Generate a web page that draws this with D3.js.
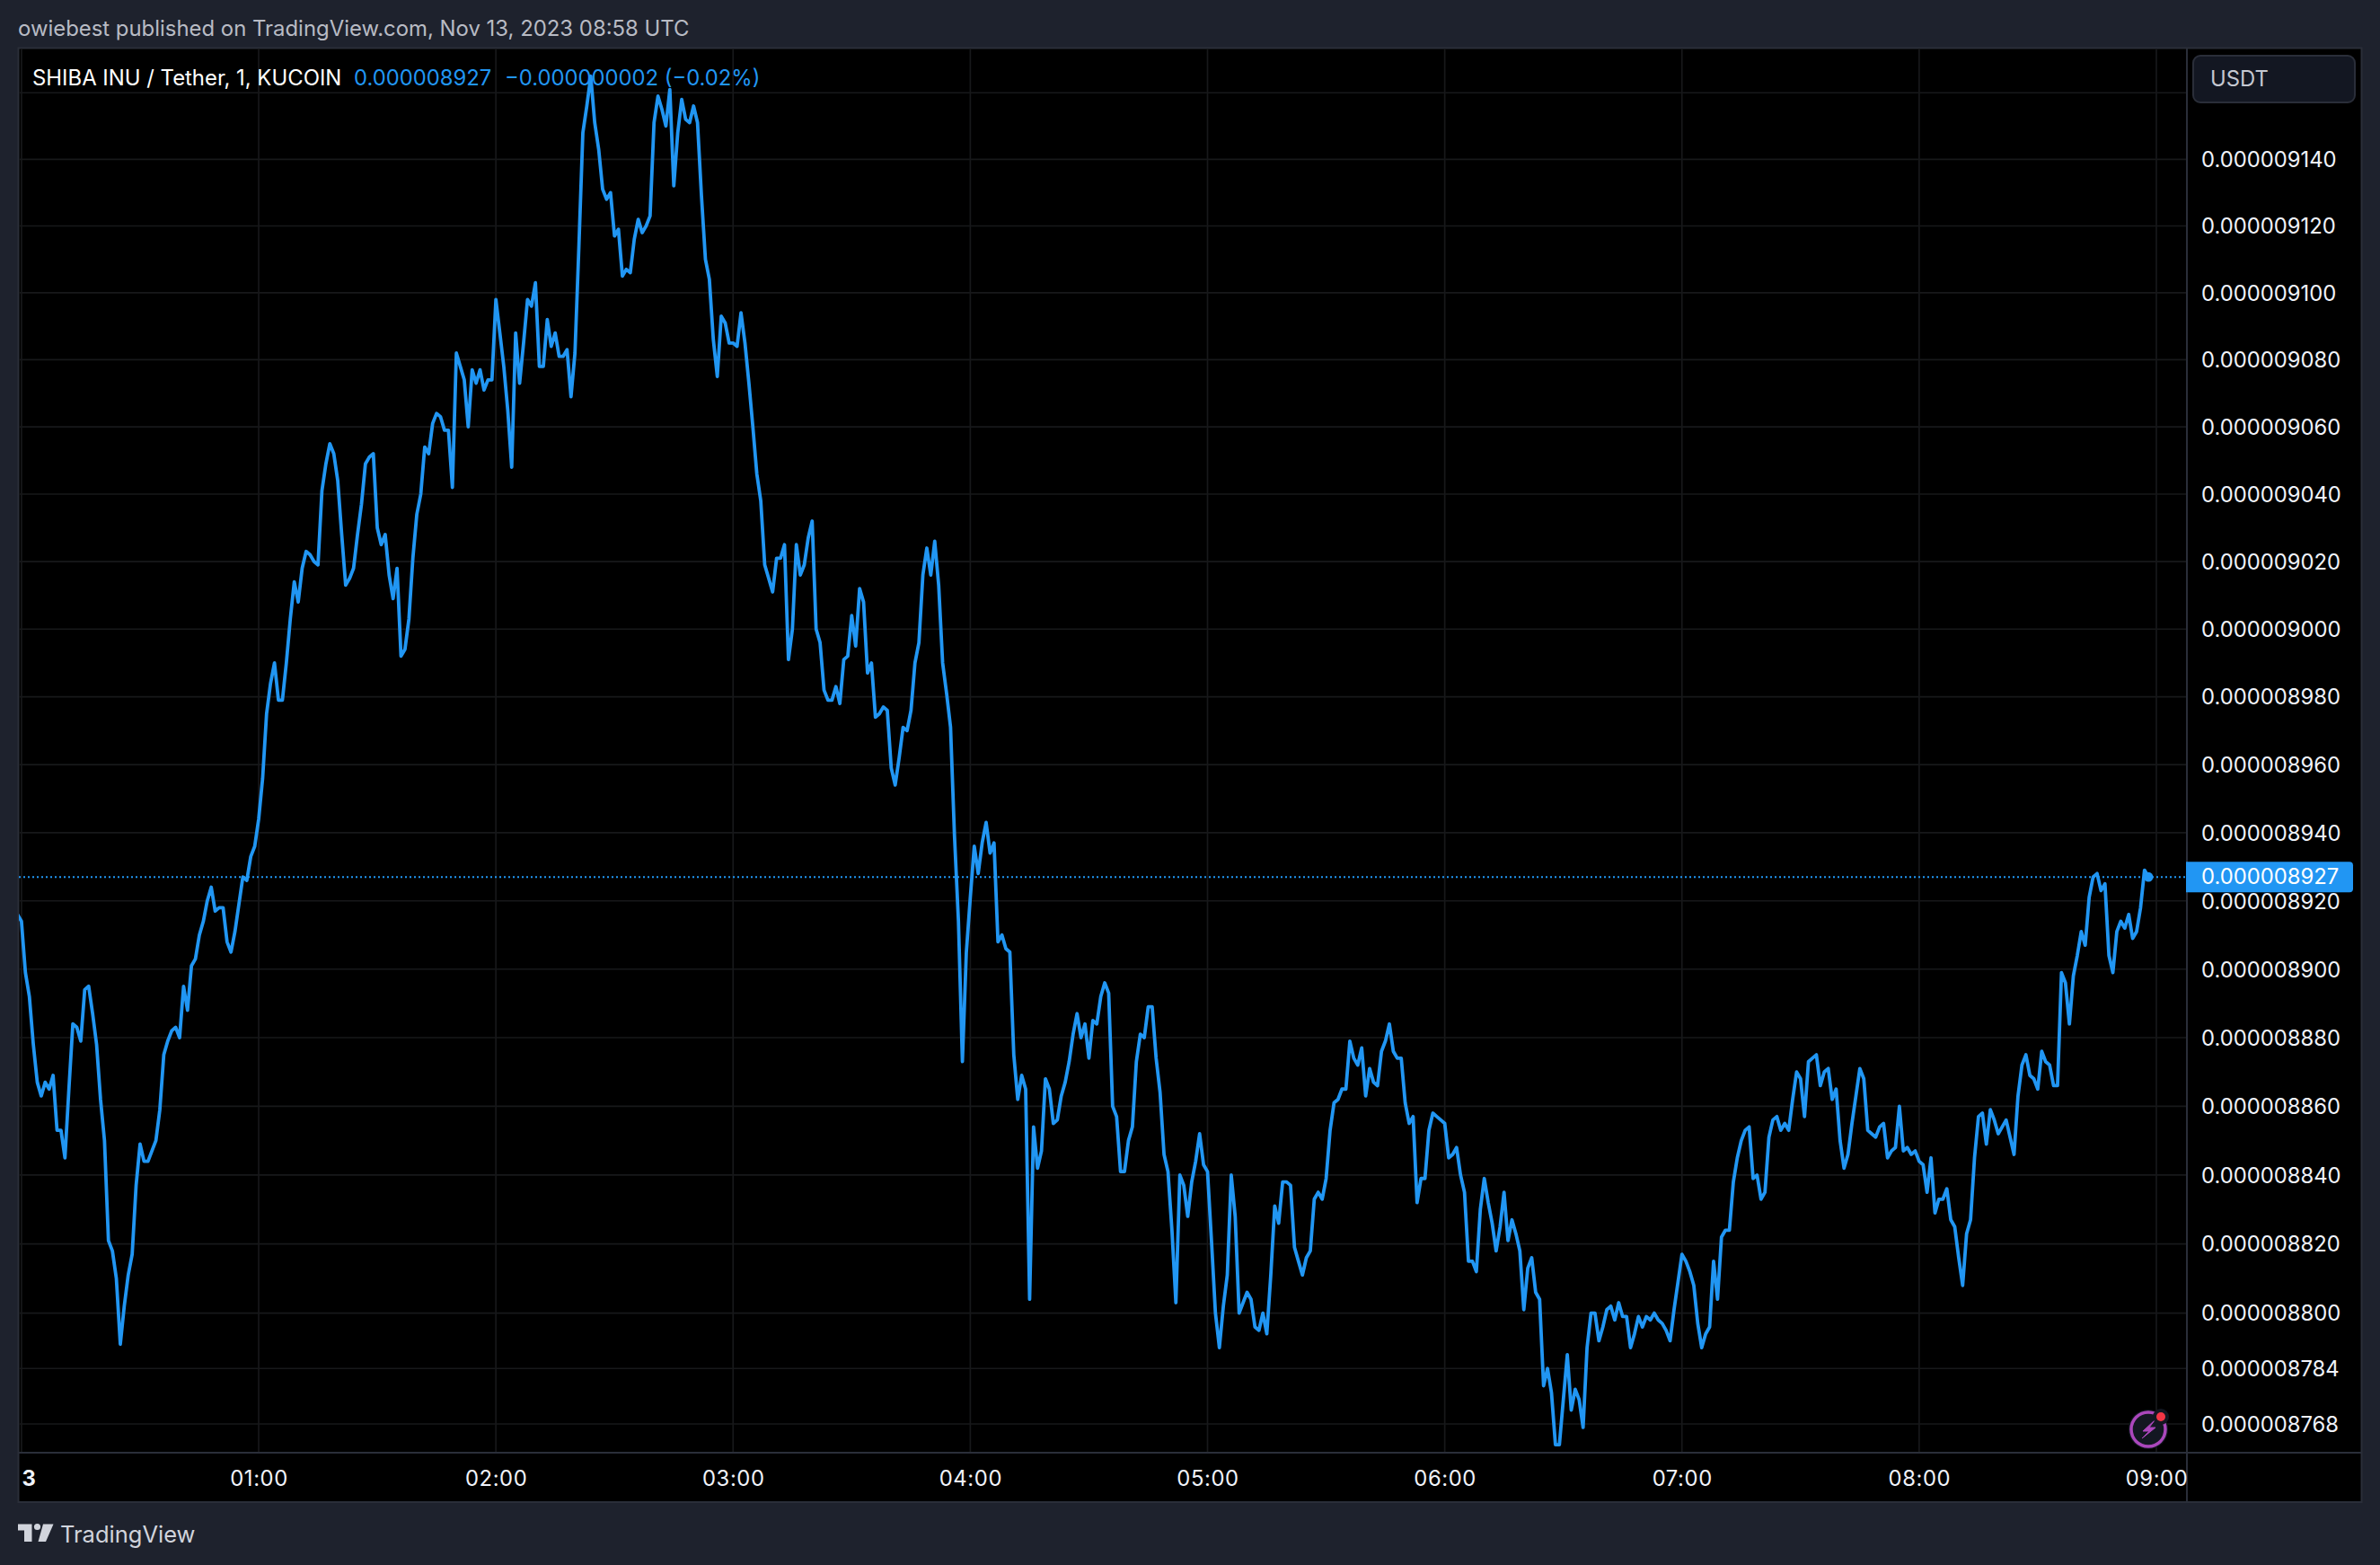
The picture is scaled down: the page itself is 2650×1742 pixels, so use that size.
<!DOCTYPE html>
<html>
<head>
<meta charset="utf-8">
<title>SHIBA INU / Tether</title>
<script src="https://cdn.jsdelivr.net/npm/d3@7"></script>
<style>
  html, body { margin: 0; padding: 0; background: #1e222d; }
  text { font-family: Inter, "Noto Sans", sans-serif; }
</style>
</head>
<body>
<div id="vis"></div>
<script>
// 1 minute closes, in units of 0.000000001 USDT, first one is 23:59
const PRICES = [
  8916, 8914, 8899, 8892, 8878, 8867, 8863, 8867, 8865, 8869, 8853, 8853, 8845, 8865, 8884, 8883, 8879, 8894, 8895, 8887,
  8878, 8862, 8850, 8821, 8818, 8810, 8791, 8802, 8811, 8817, 8837, 8849, 8844, 8844, 8847, 8850, 8859, 8875, 8879, 8882,
  8883, 8880, 8895, 8888, 8901, 8903, 8910, 8914, 8920, 8924, 8917, 8918, 8918, 8908, 8905, 8911, 8919, 8927, 8926, 8933,
  8936, 8944, 8956, 8975, 8984, 8990, 8979, 8979, 8990, 9003, 9014, 9008, 9018, 9023, 9022, 9020, 9019, 9041, 9049, 9055,
  9052, 9044, 9028, 9013, 9015, 9018, 9028, 9037, 9049, 9051, 9052, 9030, 9025, 9028, 9016, 9009, 9018, 8992, 8994, 9003,
  9021, 9034, 9040, 9054, 9052, 9061, 9064, 9063, 9059, 9059, 9042, 9082, 9078, 9074, 9060, 9077, 9073, 9077, 9071, 9074,
  9074, 9098, 9088, 9078, 9065, 9048, 9088, 9073, 9085, 9098, 9096, 9103, 9078, 9078, 9092, 9084, 9088, 9081, 9081, 9083,
  9069, 9082, 9114, 9148, 9156, 9165, 9151, 9143, 9131, 9128, 9130, 9117, 9119, 9105, 9107, 9106, 9116, 9122, 9118, 9120,
  9123, 9151, 9159, 9155, 9150, 9161, 9132, 9148, 9158, 9152, 9151, 9156, 9151, 9129, 9110, 9104, 9086, 9075, 9093, 9091,
  9085, 9085, 9084, 9094, 9085, 9073, 9060, 9046, 9038, 9019, 9015, 9011, 9021, 9021, 9025, 8991, 9000, 9025, 9016, 9019,
  9027, 9032, 9000, 8996, 8982, 8979, 8979, 8983, 8978, 8991, 8992, 9004, 8995, 9012, 9008, 8987, 8990, 8974, 8975, 8977,
  8976, 8959, 8954, 8962, 8971, 8970, 8976, 8990, 8996, 9016, 9024, 9016, 9026, 9013, 8990, 8981, 8971, 8939, 8914, 8873,
  8905, 8921, 8936, 8928, 8937, 8943, 8934, 8937, 8908, 8910, 8906, 8905, 8875, 8862, 8869, 8865, 8804, 8854, 8842, 8847,
  8868, 8865, 8855, 8856, 8863, 8867, 8873, 8881, 8887, 8880, 8884, 8874, 8885, 8884, 8892, 8896, 8893, 8860, 8857, 8841,
  8841, 8850, 8854, 8873, 8881, 8880, 8889, 8889, 8874, 8864, 8846, 8841, 8824, 8803, 8840, 8837, 8828, 8838, 8844, 8852,
  8843, 8841, 8821, 8800, 8790, 8802, 8811, 8840, 8828, 8800, 8803, 8806, 8804, 8796, 8795, 8800, 8794, 8811, 8831, 8826,
  8838, 8838, 8837, 8819, 8815, 8811, 8816, 8818, 8833, 8835, 8833, 8839, 8853, 8861, 8862, 8865, 8865, 8879, 8874, 8872,
  8877, 8863, 8871, 8867, 8866, 8876, 8879, 8884, 8876, 8874, 8874, 8861, 8855, 8857, 8832, 8839, 8839, 8853, 8858, 8857,
  8856, 8855, 8845, 8846, 8848, 8840, 8835, 8815, 8815, 8812, 8830, 8839, 8832, 8826, 8818, 8825, 8835, 8821, 8827, 8823,
  8818, 8801, 8813, 8816, 8806, 8804, 8779, 8784, 8777, 8762, 8762, 8775, 8788, 8772, 8778, 8775, 8767, 8790, 8800, 8800,
  8792, 8796, 8801, 8802, 8798, 8803, 8799, 8799, 8790, 8794, 8799, 8796, 8799, 8798, 8800, 8798, 8797, 8795, 8792, 8801,
  8809, 8817, 8815, 8812, 8808, 8797, 8790, 8794, 8796, 8815, 8804, 8822, 8824, 8824, 8838, 8845, 8850, 8853, 8854, 8839,
  8840, 8833, 8835, 8851, 8856, 8857, 8853, 8855, 8853, 8862, 8870, 8868, 8857, 8873, 8874, 8875, 8866, 8870, 8871, 8862,
  8865, 8850, 8842, 8846, 8855, 8863, 8871, 8868, 8853, 8852, 8851, 8854, 8855, 8845, 8847, 8848, 8860, 8847, 8848, 8846,
  8847, 8844, 8843, 8835, 8845, 8829, 8833, 8833, 8836, 8827, 8825, 8816, 8808, 8823, 8827, 8845, 8857, 8858, 8849, 8859,
  8856, 8852, 8854, 8856, 8851, 8846, 8863, 8872, 8875, 8869, 8868, 8865, 8876, 8873, 8872, 8866, 8866, 8899, 8896, 8884,
  8898, 8904, 8911, 8907, 8921, 8927, 8928, 8923, 8925, 8904, 8899, 8911, 8914, 8912, 8916, 8909, 8911, 8918, 8929, 8927
];
const LAST_PRICE = 8927;
const PRICE_TICKS = [9140, 9120, 9100, 9080, 9060, 9040, 9020, 9000, 8980, 8960, 8940, 8920, 8900, 8880, 8860, 8840, 8820, 8800, 8784, 8768];
const HIDDEN_TICK = 9160; // label sits under the USDT button
const TIME_LABELS = ["3", "01:00", "02:00", "03:00", "04:00", "05:00", "06:00", "07:00", "08:00", "09:00"];

const WIDTH = 2650;
const HEIGHT = 1742;
const PLOT = {left: 21, right: 2435, top: 54, bottom: 1617};
const FRAME_RIGHT = 2629.5;
const FRAME_BOTTOM = 1672;
const BLUE = "#2196f3";
const BORDER = "#2a2e39";
const GRID = "#17181a";
const FONT_SIZE = 23.8;

const START = Date.UTC(2023, 10, 12, 23, 59);
const MINUTE = 60000;
const HOUR = 60 * MINUTE;
const MIDNIGHT = Date.UTC(2023, 10, 13, 0, 0);

const times = PRICES.map((d, i) => new Date(START + i * MINUTE));
const hourTicks = TIME_LABELS.map((d, i) => new Date(MIDNIGHT + i * HOUR));

// log price scale, pinned on two gridlines
const Y_SCALE = d3.scaleLog().domain([8768, 9140]).range([1585, 177.3]);
const X_SCALE = d3.scaleUtc().domain([hourTicks[0], hourTicks[9]]).range([23.9, 2401]);

const formatPrice = d => (d * 1e-9).toFixed(9);

const svg = d3.select("#vis").append("svg")
  .attr("width", WIDTH)
  .attr("height", HEIGHT)
  .style("display", "block");

svg.append("rect").attr("width", WIDTH).attr("height", HEIGHT).attr("fill", "#1e222d");

// black chart frame
svg.append("rect")
  .attr("x", PLOT.left - 0.5).attr("y", PLOT.top - 0.5)
  .attr("width", FRAME_RIGHT - PLOT.left + 0.5)
  .attr("height", FRAME_BOTTOM - PLOT.top + 0.5)
  .attr("fill", "#000")
  .attr("stroke", BORDER)
  .attr("stroke-width", 2);

svg.append("clipPath").attr("id", "plot-clip").append("rect")
  .attr("x", PLOT.left).attr("y", PLOT.top)
  .attr("width", PLOT.right - PLOT.left)
  .attr("height", PLOT.bottom - PLOT.top);

// grid
const grid = svg.append("g").attr("clip-path", "url(#plot-clip)");
grid.selectAll(".h").data(PRICE_TICKS.concat([HIDDEN_TICK])).enter().append("line")
  .attr("x1", PLOT.left).attr("x2", PLOT.right)
  .attr("y1", d => Y_SCALE(d)).attr("y2", d => Y_SCALE(d))
  .attr("stroke", GRID).attr("stroke-width", 1.7);
grid.selectAll(".v").data(hourTicks).enter().append("line")
  .attr("x1", d => X_SCALE(d)).attr("x2", d => X_SCALE(d))
  .attr("y1", PLOT.top).attr("y2", PLOT.bottom)
  .attr("stroke", GRID).attr("stroke-width", 1.7);

// axis separators
svg.append("line").attr("x1", PLOT.right).attr("x2", PLOT.right).attr("y1", PLOT.top).attr("y2", FRAME_BOTTOM)
  .attr("stroke", BORDER).attr("stroke-width", 2);
svg.append("line").attr("x1", PLOT.left).attr("x2", FRAME_RIGHT).attr("y1", PLOT.bottom).attr("y2", PLOT.bottom)
  .attr("stroke", BORDER).attr("stroke-width", 2);

// last price line
svg.append("line")
  .attr("x1", PLOT.left).attr("x2", PLOT.right)
  .attr("y1", Y_SCALE(LAST_PRICE)).attr("y2", Y_SCALE(LAST_PRICE))
  .attr("stroke", BLUE).attr("stroke-width", 2).attr("stroke-dasharray", "2 3");

// price line
const line = d3.line()
  .x((d, i) => X_SCALE(times[i]))
  .y(d => Y_SCALE(d));

svg.append("path")
  .datum(PRICES)
  .attr("clip-path", "url(#plot-clip)")
  .attr("d", line)
  .attr("fill", "none")
  .attr("stroke", BLUE)
  .attr("stroke-width", 3.8)
  .attr("stroke-linejoin", "round");

svg.append("circle")
  .attr("cx", X_SCALE(times[times.length - 1]))
  .attr("cy", Y_SCALE(LAST_PRICE))
  .attr("r", 5.3)
  .attr("fill", BLUE);

// price axis
const yAxis = svg.append("g")
  .attr("transform", "translate(" + PLOT.right + ",0.7)")
  .call(d3.axisRight(Y_SCALE).tickValues(PRICE_TICKS).tickFormat(formatPrice).tickSize(0).tickPadding(16));
yAxis.select(".domain").remove();
yAxis.selectAll("text")
  .attr("fill", "#f0f3fa")
  .attr("font-size", FONT_SIZE)
  .style("font-family", "Inter, sans-serif");

// time axis
const xAxis = svg.append("g")
  .attr("transform", "translate(0," + PLOT.bottom + ")")
  .call(d3.axisBottom(X_SCALE).tickValues(hourTicks).tickFormat((d, i) => TIME_LABELS[i]).tickSize(0).tickPadding(20));
xAxis.select(".domain").remove();
xAxis.selectAll("text")
  .attr("fill", "#f0f3fa")
  .attr("font-size", FONT_SIZE)
  .attr("letter-spacing", 0.6)
  .style("font-family", "Inter, sans-serif");
// day label is pushed in by the left edge
xAxis.selectAll("text").filter((d, i) => i === 0)
  .attr("x", 8)
  .attr("font-weight", 700);

// last price badge
const badgeY = Y_SCALE(LAST_PRICE);
svg.append("path")
  .attr("d", "M2434," + (badgeY - 17) + "H2616a4,4 0 0 1 4,4V" + (badgeY + 13) + "a4,4 0 0 1 -4,4H2434Z")
  .attr("fill", BLUE);
svg.append("text")
  .attr("x", 2451).attr("y", badgeY).attr("dy", "0.34em")
  .attr("fill", "#fff").attr("font-size", FONT_SIZE)
  .text(formatPrice(LAST_PRICE));

// USDT button
svg.append("rect")
  .attr("x", 2442).attr("y", 62).attr("width", 180).attr("height", 52).attr("rx", 8)
  .attr("fill", "#131722").attr("stroke", BORDER).attr("stroke-width", 2);
svg.append("text")
  .attr("x", 2461).attr("y", 87).attr("dy", "0.36em")
  .attr("fill", "#c5c8d1").attr("font-size", FONT_SIZE)
  .text("USDT");

// header and legend
svg.append("text")
  .attr("x", 20).attr("y", 31).attr("dy", "0.36em")
  .attr("fill", "#b8bbc4").attr("font-size", 23.9)
  .text("owiebest published on TradingView.com, Nov 13, 2023 08:58 UTC");
svg.append("text")
  .attr("x", 36).attr("y", 86).attr("dy", "0.36em")
  .attr("fill", "#fff").attr("font-size", 23.9)
  .text("SHIBA INU / Tether, 1, KUCOIN");
svg.append("text")
  .attr("x", 394).attr("y", 86).attr("dy", "0.36em")
  .attr("fill", BLUE).attr("font-size", FONT_SIZE)
  .text(formatPrice(LAST_PRICE));
svg.append("text")
  .attr("x", 562).attr("y", 86).attr("dy", "0.36em")
  .attr("fill", BLUE).attr("font-size", FONT_SIZE)
  .text("\u22120.000000002 (\u22120.02%)");

// purple bolt badge
const bolt = svg.append("g").attr("transform", "translate(2392,1591)");
bolt.append("circle").attr("r", 22).attr("fill", "#131722");
bolt.append("circle").attr("r", 19).attr("fill", "#131722").attr("stroke", "#ab47bc").attr("stroke-width", 3.5);
bolt.append("path")
  .attr("d", "M7,-10 L-6,2 L1,2 L-7,10 L8,-2 L1,-2 Z")
  .attr("fill", "#ab47bc").attr("stroke", "#ab47bc").attr("stroke-linejoin", "round");
bolt.append("circle").attr("cx", 14).attr("cy", -14).attr("r", 9).attr("fill", "#131722");
bolt.append("circle").attr("cx", 14).attr("cy", -14).attr("r", 5).attr("fill", "#f23645");

// TradingView logo
const logo = svg.append("g").attr("fill", "#d1d4dc");
logo.append("path").attr("d", "M20,1696.5H35.5V1716H27V1703.5H20Z");
logo.append("circle").attr("cx", 41.5).attr("cy", 1699.5).attr("r", 3.6);
logo.append("path").attr("d", "M48,1696.5H59.5L51,1716H42.5Z");
svg.append("text")
  .attr("x", 67).attr("y", 1708).attr("dy", "0.36em")
  .attr("fill", "#d1d4dc").attr("font-size", 25.5)
  .text("TradingView");
</script>
</body>
</html>
